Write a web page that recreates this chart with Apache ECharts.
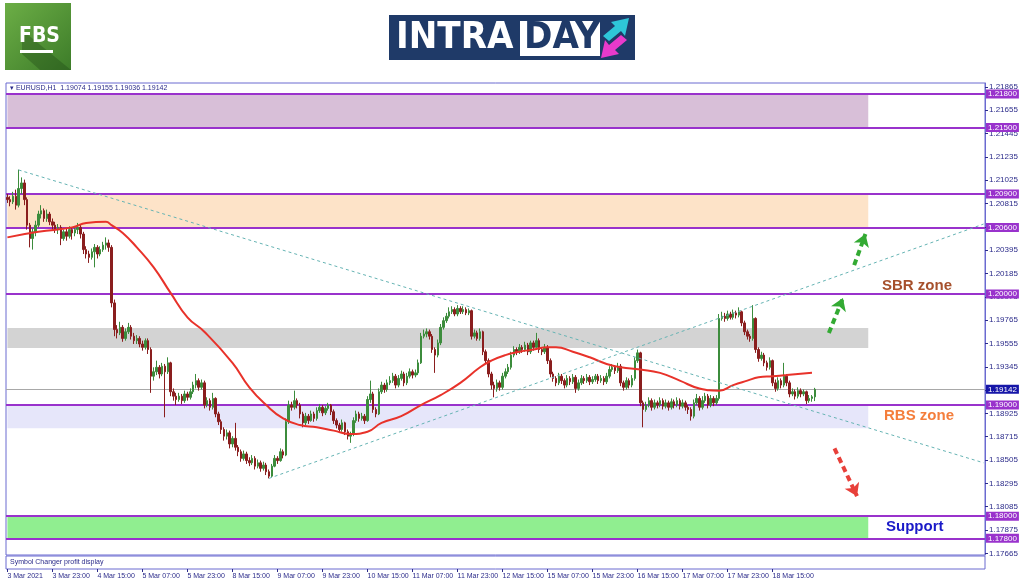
<!DOCTYPE html>
<html>
<head>
<meta charset="utf-8">
<script src="https://cdn.jsdelivr.net/npm/echarts@6.0.0/dist/echarts.min.js"></script>
<style>
html, body { margin: 0; padding: 0; background: #fff; }
#chart { width: 1024px; height: 587px; }
</style>
</head>
<body>
<div id="chart"></div>
<script>
// EURUSD H1, 3 Mar 2021 - 19 Mar 2021
const BASE = 1.18; // candles stored in pips above this price

// [open, close, low, high]
const candles = [
  [287,285,282,290],[285,283,279,288],[283,288,281,292],[288,280,276,294],[280,295,278,312],
  [295,300,290,305],[300,285,280,303],[285,262,258,287],[262,250,242,264],[250,256,240,259],
  [256,262,252,266],[262,272,260,275],[272,275,268,280],[275,268,265,277],[268,272,265,276],
  [272,265,262,274],[265,262,258,268],[262,258,255,265],[258,260,254,263],[260,250,244,262],
  [250,256,248,258],[256,252,248,259],[252,258,250,261],[258,255,249,260],[255,258,252,261],
  [258,260,254,264],[260,254,250,262],[254,240,236,256],[240,236,232,243],[236,233,228,239],
  [233,238,231,241],[238,242,224,245],[242,236,232,244],[236,240,234,243],[240,244,238,247],
  [244,246,240,251],[246,242,238,249],[242,192,188,244],[192,168,162,195],[168,165,160,172],
  [165,170,163,175],[170,160,157,172],[160,166,158,169],[166,170,164,174],[170,162,159,172],
  [162,158,155,165],[158,160,155,163],[160,155,152,162],[155,152,149,158],[152,158,150,160],
  [158,150,146,160],[150,126,111,152],[126,130,122,134],[130,134,127,140],[134,128,124,136],
  [128,135,126,138],[135,130,89,137],[130,138,128,143],[138,112,108,139],[112,108,104,115],
  [108,105,100,111],[105,108,103,111],[108,104,101,110],[104,110,102,113],[110,107,104,112],
  [107,112,105,115],[112,118,110,121],[118,122,115,128],[122,116,113,124],[116,120,114,123],
  [120,100,97,122],[100,104,98,107],[104,98,95,106],[98,106,96,111],[106,92,89,107],
  [92,85,82,94],[85,78,74,87],[78,72,68,80],[72,75,69,78],[75,65,61,77],
  [65,70,62,72],[70,62,59,84],[62,58,54,64],[58,52,49,60],[52,56,50,59],
  [56,50,47,58],[50,48,45,53],[48,52,46,55],[52,45,42,54],[45,48,43,51],
  [48,43,40,50],[43,46,41,49],[46,40,37,48],[40,36,34,42],[36,45,35,47],
  [45,52,44,55],[52,50,47,54],[50,58,49,61],[58,55,52,60],[55,85,54,88],
  [85,100,83,104],[100,98,95,103],[98,104,96,113],[104,100,97,106],[100,92,88,102],
  [92,84,80,94],[84,90,82,93],[90,86,83,92],[86,92,85,95],[92,88,85,94],
  [88,95,86,98],[95,98,93,101],[98,93,90,100],[93,97,91,99],[97,100,95,102],
  [100,94,91,101],[94,86,83,96],[86,82,79,88],[82,78,75,84],[78,84,76,87],
  [84,76,73,85],[76,72,69,78],[72,74,66,76],[74,86,72,89],[86,92,84,95],
  [92,88,85,94],[88,90,86,93],[90,86,83,92],[86,105,85,108],[105,110,102,122],
  [110,96,93,112],[96,92,89,98],[92,112,91,115],[112,118,110,121],[118,114,111,120],
  [114,120,112,123],[120,122,118,126],[122,126,120,129],[126,118,115,128],[118,124,116,127],
  [124,128,122,131],[128,120,117,130],[120,126,118,129],[126,130,124,133],[130,127,124,132],
  [127,129,125,132],[129,138,127,141],[138,162,137,165],[162,164,160,168],[164,166,161,169],
  [166,162,159,168],[162,150,147,164],[150,145,129,152],[145,156,143,159],[156,170,154,173],
  [170,176,168,179],[176,180,174,183],[180,184,178,188],[184,186,182,189],[186,182,180,188],
  [182,187,180,190],[187,184,182,189],[184,186,182,189],[186,183,181,188],[183,185,181,187],
  [185,162,159,186],[162,165,160,168],[165,160,158,167],[160,166,158,169],[166,148,145,167],
  [148,140,137,150],[140,128,125,142],[128,118,114,130],[118,115,107,121],[115,120,112,123],
  [120,116,113,122],[116,126,114,129],[126,130,124,133],[130,134,128,137],[134,145,132,148],
  [145,150,143,153],[150,148,145,152],[148,152,146,155],[152,150,147,154],[150,154,148,157],
  [154,148,145,156],[148,156,146,158],[156,152,149,158],[152,158,150,165],[158,150,147,160],
  [150,148,145,152],[148,152,146,155],[152,140,137,154],[140,128,125,142],[128,124,121,130],
  [124,120,117,126],[120,126,118,129],[126,122,119,128],[122,118,115,124],[118,124,116,127],
  [124,121,118,126],[121,125,119,128],[125,115,111,127],[115,120,113,123],[120,124,118,127],
  [124,122,119,126],[122,125,120,128],[125,121,118,127],[121,123,119,126],[123,126,121,128],
  [126,122,119,128],[122,124,120,127],[124,121,118,126],[121,126,119,129],[126,132,124,135],
  [132,134,130,137],[134,131,128,136],[131,135,129,138],[135,120,117,137],[120,116,113,122],
  [116,122,114,125],[122,118,115,124],[118,124,116,127],[124,140,122,143],[140,147,138,150],
  [147,102,99,148],[102,96,80,104],[96,100,94,103],[100,104,98,107],[104,98,95,106],
  [98,102,96,105],[102,100,97,104],[100,104,98,107],[104,99,96,106],[99,102,97,105],
  [102,98,95,104],[98,103,96,106],[103,100,97,105],[100,104,98,107],[104,99,96,106],
  [99,102,97,105],[102,98,95,104],[98,96,92,100],[96,90,86,98],[90,102,88,105],
  [102,106,100,110],[106,98,95,108],[98,104,96,108],[104,108,102,111],[108,100,97,110],
  [100,106,98,109],[106,102,99,108],[102,106,100,109],[106,178,104,182],[178,180,176,184],
  [180,178,175,183],[178,182,176,185],[182,179,177,184],[179,183,177,186],[183,181,178,185],
  [181,184,179,188],[184,174,171,185],[174,166,163,176],[166,162,159,168],[162,160,157,164],
  [160,178,158,190],[178,150,147,179],[150,142,139,152],[142,145,140,148],[145,138,135,147],
  [138,134,131,140],[134,140,132,143],[140,120,117,141],[120,115,112,123],[115,122,113,125],
  [122,118,115,124],[118,126,116,138],[126,120,117,128],[120,110,107,122],[110,112,108,115],
  [112,108,105,114],[108,113,106,116],[113,110,107,115],[110,112,108,114],[112,104,101,113],
  [104,106,102,109],[106,107.4,103,109],[107.4,114.2,103.6,115.5]
];

// red moving average, [bar index, pips]
const maPoints = [
  [0,251],[11,256],[23,260],[28,264],[35,265],[37,262],[41,255],[46,242],[52,224],[58,201],
  [64,179],[70,166],[80,138],[86,116],[92,100],[98,88],[104,82],[110,80],[116,77],[122,74],
  [128,76],[133,84],[140,90],[147,100],[154,109],[161,120],[168,134],[172,140],[177,145],
  [182,148],[187,150],[192,152],[195,152],[201,148],[207,143],[213,137],[218,134],[225,132],
  [232,129],[239,122],[246,115],[253,113],[258,118],[263,122],[267,125],[272,126],[277,127],[286,129]
];

const BAR_SLOTS = 348; // bars incl. empty chart shift on the right
const timeLabels = ['3 Mar 2021','3 Mar 23:00','4 Mar 15:00','5 Mar 07:00','5 Mar 23:00',
  '8 Mar 15:00','9 Mar 07:00','9 Mar 23:00','10 Mar 15:00','11 Mar 07:00','11 Mar 23:00',
  '12 Mar 15:00','15 Mar 07:00','15 Mar 23:00','16 Mar 15:00','17 Mar 07:00','17 Mar 23:00','18 Mar 15:00'];
const priceTicks = [1.17665,1.17875,1.18085,1.18295,1.18505,1.18715,1.18925,1.19135,1.19345,
  1.19555,1.19765,1.19975,1.20185,1.20395,1.20605,1.20815,1.21025,1.21235,1.21445,1.21655,1.21865];
const levels = [1.2180,1.2150,1.2090,1.2060,1.2000,1.1900,1.1800,1.1780];
const lastPrice = 1.19142;
const zones = [[1.2150,1.2180],[1.2060,1.2090],[1.19513,1.19693],[1.18791,1.1900],[1.1780,1.1800]];
const zoneEnd = 306;
const trendDown = [[4,311.7],[347,48]];
const trendUp = [[93,34],[347,263]];
const arrowsUp = [[[292,164.8],[297,196.3]],[[301,226],[305,254]]];
const arrowDown = [[294,61],[302,18]];

const zoneColors = ['#d8bfd8','#fde3c8','#d3d3d3','#e6e6fa','#90ee90'];
const px = v => +(BASE + v / 10000).toFixed(5);
const cats = Array.from({ length: BAR_SLOTS }, (_, i) => String(i));
const lastBar = candles.length;
const frame = '#6a6ad0';
const navy = '#2b2b8a';
const purple = '#9932cc';
const font = 'Liberation Sans';
const logoFont = 'bold 38px "DejaVu Sans Condensed", "Liberation Sans", sans-serif';

const chart = echarts.init(document.getElementById('chart'));

chart.setOption({
  animation: false,
  backgroundColor: '#fff',
  grid: [
    { left: 6, right: 39, top: 83, bottom: 32, show: true, borderColor: frame, borderWidth: 1 },
    { left: 6, right: 39, top: 556, height: 13, show: true, borderColor: frame, borderWidth: 1 }
  ],
  xAxis: [
    { type: 'category', gridIndex: 0, data: cats, show: false },
    {
      type: 'category', gridIndex: 1, data: cats,
      axisLine: { show: false },
      axisTick: { show: true, alignWithLabel: true, length: 3, lineStyle: { color: navy },
        interval: i => i % 16 === 0 && i < lastBar },
      axisLabel: {
        interval: 15, align: 'left', margin: 4, fontSize: 7, fontFamily: font, color: navy,
        formatter: (v, i) => (i % 16 === 0 && timeLabels[i / 16]) ? timeLabels[i / 16] : ''
      }
    }
  ],
  yAxis: [
    {
      type: 'value', gridIndex: 0, position: 'right', min: 1.1765, max: 1.219,
      splitLine: { show: false },
      axisLine: { show: true, lineStyle: { color: frame } },
      axisTick: { show: true, length: 3, customValues: priceTicks, lineStyle: { color: navy } },
      axisLabel: { customValues: priceTicks, margin: 4, fontSize: 8, fontFamily: font, color: navy,
        formatter: v => v.toFixed(5) }
    },
    { type: 'value', gridIndex: 1, position: 'right', show: false }
  ],
  series: [
    {
      type: 'line', data: [], z: 1, silent: true,
      markArea: {
        silent: true,
        data: zones.map((z, i) => [
          { xAxis: 0, yAxis: z[0], itemStyle: { color: zoneColors[i] } },
          { xAxis: zoneEnd, yAxis: z[1] }
        ])
      }
    },
    {
      type: 'candlestick', z: 3, barWidth: 2,
      data: candles.map(c => c.map(px)),
      itemStyle: { color: '#3c8c3c', color0: '#8a1e1e', borderColor: '#3c8c3c', borderColor0: '#8a1e1e', borderWidth: 1 },
      markLine: {
        silent: true, symbol: 'none', precision: 5, z: 2,
        lineStyle: { color: purple, width: 2, type: 'solid' },
        label: { position: 'end', distance: 1, color: '#fff', backgroundColor: purple,
          fontSize: 8, fontFamily: font, padding: [1, 2, 0, 2] },
        data: levels.map(v => ({ yAxis: v, label: { formatter: v.toFixed(5) } })).concat([{
          yAxis: lastPrice,
          lineStyle: { color: '#a8a8a8', width: 1 },
          label: { formatter: lastPrice.toFixed(5), backgroundColor: '#1616a8' }
        }])
      }
    },
    {
      type: 'line', z: 4, smooth: true, showSymbol: false, silent: true,
      data: maPoints.map(p => [p[0], px(p[1])]),
      lineStyle: { color: '#e8322a', width: 2 }
    },
    {
      type: 'line', z: 4, showSymbol: false, silent: true,
      data: trendDown.map(p => [p[0], px(p[1])]),
      lineStyle: { color: '#66b4b4', width: 1, type: [3, 3] }
    },
    {
      type: 'line', z: 4, showSymbol: false, silent: true,
      data: trendUp.map(p => [p[0], px(p[1])]),
      lineStyle: { color: '#66b4b4', width: 1, type: [3, 3] }
    },
    {
      type: 'line', data: [], z: 5, silent: true,
      markLine: {
        silent: true, symbol: ['none', 'arrow'], symbolSize: 12, precision: 5, label: { show: false },
        data: arrowsUp.map(a => [
          { coord: [a[0][0], px(a[0][1])], lineStyle: { color: '#33aa33', width: 4, type: [6, 4] }, itemStyle: { color: '#33aa33' } },
          { coord: [a[1][0], px(a[1][1])] }
        ]).concat([[
          { coord: [arrowDown[0][0], px(arrowDown[0][1])], lineStyle: { color: '#e8403a', width: 4, type: [6, 4] }, itemStyle: { color: '#e8403a' } },
          { coord: [arrowDown[1][0], px(arrowDown[1][1])] }
        ]])
      }
    }
  ],
  graphic: [
    // FBS logo
    { type: 'rect', left: 5, top: 3, shape: { width: 66, height: 67 }, z: 10,
      style: { fill: new echarts.graphic.LinearGradient(0, 0, 1, 1, [{ offset: 0, color: '#6cae46' }, { offset: 1, color: '#3d7c29' }]) } },
    { type: 'polygon', z: 11, shape: { points: [[22, 30], [71, 70], [40, 70], [22, 54]] }, style: { fill: 'rgba(30,70,20,0.35)' } },
    { type: 'text', z: 12, left: 19, top: 26, style: { text: 'FBS', fill: '#fff', font: 'bold 21px "DejaVu Sans Condensed", "Liberation Sans", sans-serif' } },
    { type: 'rect', z: 12, left: 20, top: 50, shape: { width: 33, height: 3 }, style: { fill: '#fff' } },
    // INTRADAY logo
    { type: 'rect', z: 10, left: 389, top: 15, shape: { width: 246, height: 45 }, style: { fill: '#1f3a68' } },
    { type: 'text', z: 12, left: 396, top: 19, style: { text: 'INTRA', fill: '#fff', font: logoFont } },
    { type: 'rect', z: 11, left: 520, top: 21, shape: { width: 80, height: 35 }, style: { fill: '#fff' } },
    { type: 'text', z: 12, left: 524, top: 19, style: { text: 'DAY', fill: '#1f3a68', font: logoFont } },
    { type: 'polygon', z: 12, shape: { points: [[603, 36], [615, 26], [611, 22], [629, 18], [625, 36], [621, 31], [609, 41]] }, style: { fill: '#2ec6d8' } },
    { type: 'polygon', z: 12, shape: { points: [[627, 40], [615, 50], [619, 54], [601, 58], [605, 40], [609, 45], [621, 35]] }, style: { fill: '#e83acb' } },
    // chart texts
    { type: 'text', z: 12, left: 10, top: 85, style: { text: '\u25BE EURUSD,H1  1.19074 1.19155 1.19036 1.19142', fill: navy, font: '7px "Liberation Sans"' } },
    { type: 'text', z: 12, left: 10, top: 559, style: { text: 'Symbol Changer profit display', fill: navy, font: '7px "Liberation Sans"' } },
    { type: 'text', z: 12, left: 882, top: 278, style: { text: 'SBR zone', fill: '#a6502c', font: 'bold 15px "Liberation Sans"' } },
    { type: 'text', z: 12, left: 884, top: 408, style: { text: 'RBS zone', fill: '#f47e3c', font: 'bold 15px "Liberation Sans"' } },
    { type: 'text', z: 12, left: 886, top: 519, style: { text: 'Support', fill: '#1a1ac8', font: 'bold 15px "Liberation Sans"' } }
  ]
});
</script>
</body>
</html>
